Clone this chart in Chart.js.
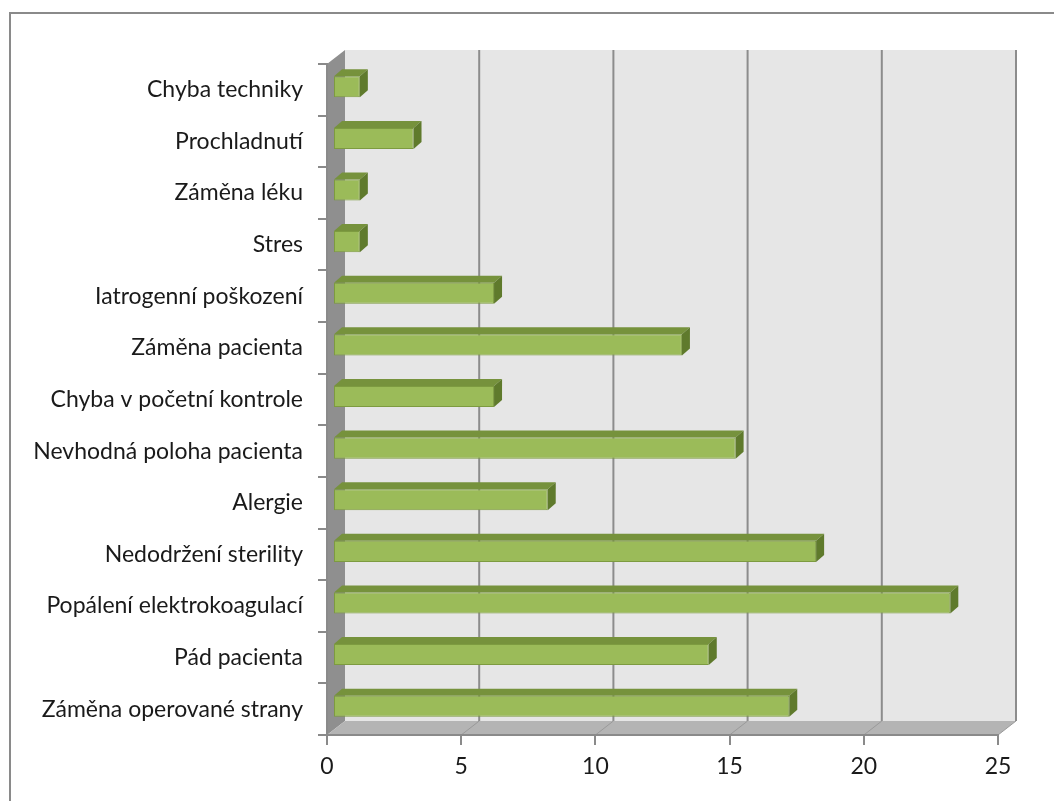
<!DOCTYPE html>
<html>
<head>
<meta charset="utf-8">
<script src="https://cdn.jsdelivr.net/npm/chart.js@4/dist/chart.umd.min.js"></script>
<style>
  html, body { margin: 0; padding: 0; background: #fff; }
  #wrap { width: 1054px; height: 801px; }
</style>
</head>
<body>
<div id="wrap"><canvas id="chart" width="1054" height="801"></canvas></div>
<script>
// kategorie odshora dolů
const categories = [
    "Chyba techniky",
    "Prochladnutí",
    "Záměna léku",
    "Stres",
    "Iatrogenní poškození",
    "Záměna pacienta",
    "Chyba v početní kontrole",
    "Nevhodná poloha pacienta",
    "Alergie",
    "Nedodržení sterility",
    "Popálení elektrokoagulací",
    "Pád pacienta",
    "Záměna operované strany",
];
const counts = [1, 3, 1, 1, 6, 13, 6, 15, 8, 18, 23, 14, 17];
const xTicks = [0, 5, 10, 15, 20, 25];

const DEPTH_X = 18, DEPTH_Y = -14;   // hloubka "3D" stěn
const BAR_SHIFT_X = 6, BAR_SHIFT_Y = -3; // rovina sloupců uvnitř hloubky
const BAR_DX = 8, BAR_DY = -7;       // hloubka samotných sloupců

// rámeček, zadní stěna, boční stěna a podlaha
const wallsPlugin = {
    id: "walls",
    beforeDraw(chart) {
        const { ctx, chartArea: a } = chart;
        const xs = chart.scales.x;
        ctx.save();

        ctx.strokeStyle = "#8a8a8a";
        ctx.lineWidth = 2;
        ctx.strokeRect(10, 13, 1200, 1000);

        // zadní stěna
        ctx.fillStyle = "#e6e6e6";
        ctx.fillRect(a.left + DEPTH_X, a.top + DEPTH_Y, a.right - a.left, a.bottom - a.top);

        // boční stěna
        ctx.fillStyle = "#8f8f8f";
        ctx.beginPath();
        ctx.moveTo(a.left, a.top);
        ctx.lineTo(a.left + DEPTH_X, a.top + DEPTH_Y);
        ctx.lineTo(a.left + DEPTH_X, a.bottom + DEPTH_Y);
        ctx.lineTo(a.left, a.bottom);
        ctx.closePath();
        ctx.fill();

        // podlaha
        ctx.fillStyle = "#b4b4b4";
        ctx.beginPath();
        ctx.moveTo(a.left, a.bottom);
        ctx.lineTo(a.right, a.bottom);
        ctx.lineTo(a.right + DEPTH_X, a.bottom + DEPTH_Y);
        ctx.lineTo(a.left + DEPTH_X, a.bottom + DEPTH_Y);
        ctx.closePath();
        ctx.fill();

        // svislé mřížky na zadní stěně + šikmé čáry na podlaze
        xTicks.forEach((v) => {
            if (v === 0) return;
            const px = xs.getPixelForValue(v);
            ctx.strokeStyle = "#8c8c8c";
            ctx.lineWidth = 2;
            ctx.beginPath();
            ctx.moveTo(px + DEPTH_X, a.top + DEPTH_Y);
            ctx.lineTo(px + DEPTH_X, a.bottom + DEPTH_Y);
            ctx.stroke();
            ctx.strokeStyle = "#9a9a9a";
            ctx.lineWidth = 1;
            ctx.beginPath();
            ctx.moveTo(px, a.bottom);
            ctx.lineTo(px + DEPTH_X, a.bottom + DEPTH_Y);
            ctx.stroke();
        });
        ctx.restore();
    },
    beforeDatasetsDraw(chart) {
        chart.ctx.save();
        chart.ctx.translate(BAR_SHIFT_X, BAR_SHIFT_Y);
    },
    afterDatasetsDraw(chart) {
        const ctx = chart.ctx;
        const meta = chart.getDatasetMeta(0);
        meta.data.forEach((bar) => {
            const p = bar.getProps(["x", "y", "base", "height"], true);
            const left = p.base, right = p.x;
            const top = p.y - p.height / 2, bottom = p.y + p.height / 2;
            // horní plocha
            ctx.fillStyle = "#76923c";
            ctx.beginPath();
            ctx.moveTo(left, top);
            ctx.lineTo(left + BAR_DX, top + BAR_DY);
            ctx.lineTo(right + BAR_DX, top + BAR_DY);
            ctx.lineTo(right, top);
            ctx.closePath();
            ctx.fill();
            // boční plocha
            ctx.fillStyle = "#5f7a2c";
            ctx.beginPath();
            ctx.moveTo(right, top);
            ctx.lineTo(right + BAR_DX, top + BAR_DY);
            ctx.lineTo(right + BAR_DX, bottom + BAR_DY);
            ctx.lineTo(right, bottom);
            ctx.closePath();
            ctx.fill();
        });
        ctx.restore();
    },
};

const labelFont = { family: "Lato", size: 23 };

new Chart(document.getElementById("chart"), {
    type: "bar",
    data: {
        labels: categories,
        datasets: [{
            data: counts,
            backgroundColor: "#9bbb59",
            borderColor: "#7d9b40",
            borderWidth: 1,
            borderSkipped: false,
            categoryPercentage: 0.8,
            barPercentage: 0.51,
            clip: false,
        }],
    },
    options: {
        indexAxis: "y",
        responsive: false,
        animation: false,
        events: [],
        layout: { padding: { top: 64, right: 56, bottom: 0, left: 0 } },
        plugins: { legend: { display: false }, tooltip: { enabled: false } },
        scales: {
            x: {
                min: 0,
                max: 25,
                afterFit(scale) { scale.height = 66; },
                afterBuildTicks(scale) { scale.ticks = xTicks.map((v) => ({ value: v })); },
                grid: { drawOnChartArea: false, tickLength: 10, color: "#8a8a8a", lineWidth: 2 },
                border: { display: true, color: "#8a8a8a", width: 2 },
                ticks: { color: "#1a1a1a", font: labelFont, padding: 8 },
            },
            y: {
                afterFit(scale) { scale.width = 327; },
                grid: { drawOnChartArea: false, offset: true, tickLength: 9, color: "#8a8a8a", lineWidth: 2 },
                border: { display: true, color: "#8a8a8a", width: 2 },
                ticks: { color: "#1a1a1a", font: labelFont, padding: 15, autoSkip: false },
            },
        },
    },
    plugins: [wallsPlugin],
});
</script>
</body>
</html>
